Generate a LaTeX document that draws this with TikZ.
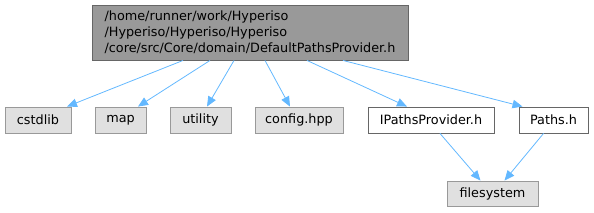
\documentclass[tikz,border=0pt]{standalone}
\usepackage{fontspec}
\setmainfont{DejaVu Sans}
\usepackage{tikz}
\usetikzlibrary{arrows.meta, positioning}
\definecolor{edgeblue}{HTML}{63B8FF}
\definecolor{extfill}{HTML}{E0E0E0}
\definecolor{extdraw}{HTML}{999999}
\definecolor{maindraw}{HTML}{666666}

\begin{document}
\begin{tikzpicture}[x=1pt, y=-1pt,
        header/.style={rectangle, draw=maindraw, fill=extdraw, line width=0.9pt, minimum width=316pt, minimum height=55pt, align=left, inner sep=0pt, font=\fontsize{12.8}{15.8}\selectfont},
        extlib/.style={rectangle, draw=extdraw, fill=extfill, line width=0.9pt, minimum height=26pt, inner sep=0pt, font=\fontsize{12.8}{15}\selectfont},
        localfile/.style={rectangle, draw=maindraw, fill=white, line width=0.9pt, minimum height=26pt, inner sep=0pt, font=\fontsize{12.8}{15}\selectfont},
        dep/.style={-{Triangle[length=10pt, width=8.5pt]}, draw=edgeblue, line width=0.8pt}
    ]
        \useasboundingbox (0,0) rectangle (594,212);
        % Nodes
        \node[header] (main) at (250, 32.5) {/home/runner/work/Hyperiso\\/Hyperiso/Hyperiso/Hyperiso\\/core/src/Core/domain/DefaultPathsProvider.h};
        \node[extlib, minimum width=66pt] (cstdlib) at (38, 120) {cstdlib};
        \node[extlib, minimum width=51pt] (map) at (120.5, 120) {map};
        \node[extlib, minimum width=61pt] (utility) at (200.5, 120) {utility};
        \node[extlib, minimum width=88pt] (config) at (299, 120) {config.hpp};
        \node[localfile, minimum width=126pt] (ipaths) at (431, 120) {IPathsProvider.h};
        \node[localfile, minimum width=69pt] (paths) at (553.5, 120) {Paths.h};
        \node[extlib, minimum width=91pt, minimum height=25pt] (filesystem) at (492.5, 193.5) {filesystem};

        % Includes of the header
        \draw[dep] ([xshift=-67pt]main.south) -- ([xshift=29pt]cstdlib.north);
        \draw[dep] ([xshift=-40pt]main.south) -- ([xshift=17.5pt]map.north);
        \draw[dep] ([xshift=-16pt]main.south) -- ([xshift=6.5pt]utility.north);
        \draw[dep] ([xshift=15pt]main.south) -- ([xshift=-9pt]config.north);
        \draw[dep] ([xshift=57pt]main.south) -- ([xshift=-24pt]ipaths.north);
        \draw[dep] ([xshift=93pt]main.south) -- ([xshift=-31pt]paths.north);

        % Second level
        \draw[dep] ([xshift=9pt]ipaths.south) -- ([xshift=-12pt]filesystem.north);
        \draw[dep] ([xshift=-10pt]paths.south) -- ([xshift=12pt]filesystem.north);
    \end{tikzpicture}
\end{document}
